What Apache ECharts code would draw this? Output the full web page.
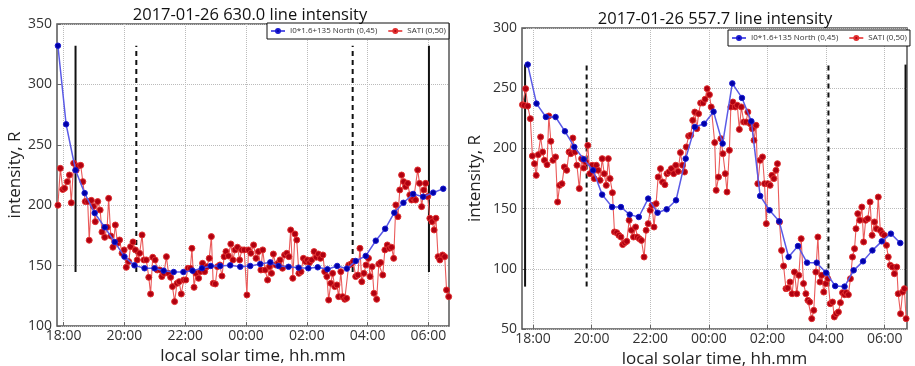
<!DOCTYPE html>
<html>
<head>
<meta charset="utf-8">
<script src="https://cdn.jsdelivr.net/npm/echarts@6/dist/echarts.min.js"></script>
<style>
  html, body { margin: 0; padding: 0; background: #fff; }
  #chart { width: 915px; height: 366px; }
</style>
</head>
<body>
<div id="chart"></div>
<script>
// time is local solar hours, continued past midnight (25 = 01:00)
const titles = ['2017-01-26 630.0 line intensity', '2017-01-26 557.7 line intensity'];
const nameNorth = 'I0*1.6+135 North (0,45)';
const nameSati = 'SATI (0,50)';
const hourTicks = [18, 20, 22, 24, 26, 28, 30];

// 630.0 panel
const north630 = [[17.81,332],[18.08,267],[18.39,229],[18.69,210],[19.02,193.5],[19.35,181.7],[19.68,169.5],[20.0,157.4],
  [20.33,150.2],[20.66,147.8],[20.99,147.8],[21.29,145.8],[21.62,144.7],[21.94,144.7],[22.24,145.8],[22.55,147.8],
  [22.84,149.7],[23.15,149.7],[23.48,150.2],[23.81,149],[24.14,149.7],[24.47,151.3],[24.8,152.7],[25.07,149.7],
  [25.4,149],[25.73,148.3],[26.05,147.8],[26.36,148.6],[26.68,147],[27.0,149.7],[27.32,147.5],[27.61,153.8],
  [27.94,158],[28.27,170.6],[28.58,180.5],[28.88,193.8],[29.18,202],[29.5,209.3],[29.83,207],[30.16,210.4],[30.49,213.6]];
const sati630 = [[17.81,200],[17.89,230.5],[17.97,213],[18.03,214],[18.12,219.5],[18.19,225],[18.25,202],[18.33,234.7],
  [18.41,229],[18.47,232.5],[18.56,233],[18.63,219.5],[18.71,203],[18.79,203],[18.84,171],[18.91,204],[18.98,199],
  [19.04,186.4],[19.12,203],[19.2,196],[19.26,177.8],[19.35,173.4],[19.43,181.7],[19.48,205.7],[19.55,174.5],
  [19.62,165.2],[19.7,183.6],[19.77,168.5],[19.84,171.2],[19.92,160.2],[19.99,163],[20.06,148.6],[20.14,153.3],
  [20.2,165.7],[20.28,169.6],[20.36,163],[20.42,154.7],[20.5,160.2],[20.58,175.4],[20.64,154.7],[20.72,154.7],
  [20.8,140.3],[20.86,126.5],[20.93,156.9],[21.01,154.7],[21.08,146.4],[21.16,146.4],[21.23,140.9],[21.3,143.6],
  [21.38,157.4],[21.45,143.6],[21.52,140.3],[21.58,132.6],[21.65,120.2],[21.73,135.3],[21.8,136.7],[21.87,126.5],
  [21.95,138.1],[22.02,138.1],[22.09,147.8],[22.17,147.8],[22.22,164.3],[22.29,132],[22.35,143.6],[22.44,139.5],
  [22.5,145],[22.57,151.9],[22.64,145],[22.71,149.1],[22.79,156],[22.86,174],[22.92,135.3],[22.99,134.8],
  [23.06,149.1],[23.14,150.5],[23.21,141.4],[23.28,157.4],[23.34,161.6],[23.42,158],[23.5,167.9],[23.57,154.7],
  [23.64,163],[23.72,165.2],[23.79,154.7],[23.86,163],[23.94,163],[24.03,125.7],[24.08,163],[24.16,160.2],
  [24.25,167.1],[24.33,156],[24.41,161.6],[24.49,146.4],[24.55,163],[24.63,146.4],[24.71,138.1],[24.77,149.1],
  [24.84,143.6],[24.9,159.6],[24.98,150.5],[25.06,151.9],[25.12,154.7],[25.2,147.8],[25.27,158.8],[25.34,160.2],
  [25.41,157.4],[25.47,179.5],[25.54,139.5],[25.61,176.2],[25.67,171.2],[25.74,143.6],[25.81,145],[25.89,156],
  [25.96,153.3],[26.02,154.7],[26.09,152.5],[26.16,154.7],[26.24,161.6],[26.31,156.9],[26.38,159.6],[26.45,156],
  [26.53,158.8],[26.59,145],[26.66,140.9],[26.72,121.5],[26.79,135.3],[26.85,143.6],[26.92,132.6],[26.99,134],
  [27.05,124.3],[27.12,145],[27.18,124.3],[27.25,122.1],[27.31,122.9],[27.38,150.5],[27.46,151.3],[27.53,153.3],
  [27.61,140.9],[27.68,142.2],[27.75,164.3],[27.81,136.7],[27.88,143.6],[27.95,150.5],[28.03,156],[28.08,140.9],
  [28.15,149.1],[28.21,127.1],[28.3,122.1],[28.37,151.3],[28.43,152.5],[28.5,142.2],[28.57,163],[28.65,167.1],
  [28.72,164.3],[28.79,165.2],[28.86,156],[28.93,200.2],[29.0,190.5],[29.06,212.6],[29.12,225],[29.19,219.5],
  [29.25,215.4],[29.32,218.1],[29.39,208.5],[29.45,204.3],[29.52,205.7],[29.58,204.3],[29.65,229.2],[29.71,218.1],
  [29.78,198.8],[29.85,212.6],[29.91,218.1],[29.98,207.1],[30.05,189.2],[30.12,186.4],[30.19,179.5],[30.25,189.2],
  [30.32,157.4],[30.38,154.7],[30.47,158.8],[30.54,157.4],[30.6,129.8],[30.67,124.3]];
const solid630 = [18.39, 30.02];
const dashed630 = [20.39, 27.51];

// 557.7 panel
const north557 = [[17.82,269.6],[18.12,237.2],[18.44,226.1],[18.77,226.1],[19.09,214.2],[19.41,201.2],[19.73,191],
  [20.05,181.8],[20.36,161.6],[20.7,151.3],[21.0,151.3],[21.3,145],[21.61,143],[21.93,158.3],[22.25,146.6],
  [22.56,149.4],[22.88,156.9],[23.21,191.5],[23.52,217.8],[23.84,220.5],[24.16,230.5],[24.47,204],[24.8,254],
  [25.13,241.9],[25.45,222.5],[25.75,160.5],[26.07,148.6],[26.4,139.4],[26.72,109.8],[27.04,118.9],[27.35,105.1],
  [27.68,105.1],[28.0,96.8],[28.31,85.7],[28.63,85.2],[28.94,98.7],[29.26,106.2],[29.58,115.3],[29.9,122.8],
  [30.21,129.2],[30.53,121.4]];
const sati557 = [[17.64,236.3],[17.7,235.8],[17.75,249.6],[17.82,235.2],[17.91,224.7],[17.98,193.7],[18.05,187.3],
  [18.11,177.6],[18.18,194.8],[18.26,209.5],[18.33,197],[18.39,190.1],[18.48,186.5],[18.54,226.9],[18.61,205.9],
  [18.68,190.1],[18.77,192.9],[18.84,155.5],[18.91,169.3],[18.99,170.7],[19.07,184.6],[19.15,181.8],[19.23,197],
  [19.29,195.6],[19.36,208.6],[19.43,197],[19.5,186],[19.58,166.6],[19.66,191.5],[19.73,183.7],[19.8,188.7],
  [19.87,202.5],[19.94,179],[20.02,186],[20.09,174.9],[20.16,186],[20.22,181.8],[20.29,173.5],[20.36,191.5],
  [20.43,179],[20.5,169.3],[20.57,191.5],[20.63,174.9],[20.71,163.2],[20.78,130.6],[20.86,130],[20.93,127.8],
  [21.0,126.4],[21.06,120.1],[21.13,121.7],[21.2,122.8],[21.28,140.3],[21.36,132],[21.43,126.4],[21.5,134.7],
  [21.56,126.4],[21.63,125],[21.7,123.6],[21.79,109.8],[21.86,132],[21.93,137.5],[22.0,148.6],[22.06,152.7],
  [22.13,134.7],[22.2,154.1],[22.27,176.2],[22.35,183.2],[22.42,172.1],[22.5,169.9],[22.57,179],[22.64,180.4],
  [22.72,183.2],[22.8,179],[22.87,186],[22.95,180.9],[23.03,196.5],[23.1,186],[23.17,180.4],[23.23,201.2],
  [23.31,210.3],[23.38,210.9],[23.45,223.3],[23.52,230.2],[23.59,216.4],[23.65,228.8],[23.72,237.7],[23.8,237.7],
  [23.87,240.8],[23.94,249.6],[24.02,244.6],[24.08,234.4],[24.2,204.8],[24.25,165.2],[24.33,176.2],[24.41,208.1],
  [24.48,195.6],[24.56,179],[24.62,163.8],[24.7,198.4],[24.75,234.4],[24.82,238.5],[24.9,234.4],[24.97,235.8],
  [25.04,215.8],[25.11,234.4],[25.19,221.9],[25.27,221.9],[25.33,230.2],[25.41,220.5],[25.48,216.4],[25.54,206.7],
  [25.61,219.2],[25.67,170.7],[25.75,190.1],[25.83,192.9],[25.9,170.7],[25.96,137.5],[26.01,170.7],[26.09,169.3],
  [26.15,177.6],[26.22,174.9],[26.29,181.8],[26.34,187.3],[26.41,138.9],[26.48,115.3],[26.55,102.3],[26.63,83.5],
  [26.69,84],[26.77,89],[26.84,79.3],[26.92,97.3],[27.0,79.3],[27.07,94.6],[27.15,125],[27.23,87.7],[27.31,79.3],
  [27.38,73.8],[27.44,72.4],[27.51,58.6],[27.58,65.5],[27.65,97.3],[27.72,126.4],[27.79,89],[27.85,94.6],
  [27.92,80.7],[27.99,87.7],[28.06,91.8],[28.14,71],[28.22,72.4],[28.28,60],[28.35,62.7],[28.42,64.1],[28.49,71.9],
  [28.56,80.2],[28.63,78.5],[28.69,80.2],[28.76,78.5],[28.83,91.8],[28.9,109.8],[28.97,116.7],[29.02,133.3],
  [29.08,145.8],[29.15,140.3],[29.22,151.3],[29.28,122.3],[29.35,140.3],[29.42,141.6],[29.5,155.5],[29.57,127.8],
  [29.65,138.9],[29.72,133.3],[29.78,159.6],[29.85,131.9],[29.92,129.2],[29.99,127.8],[30.06,119.5],[30.12,109.8],
  [30.19,102.9],[30.26,101.5],[30.33,95.9],[30.41,101.5],[30.46,79.3],[30.54,62.7],[30.61,80.7],[30.67,83.5],[30.73,58.6]];
const solid557 = [17.73, 30.71];
const dashed557 = [19.83, 28.08];

const panels = [
  { north: north630, sati: sati630, solid: solid630, dashed: dashed630, xMin: 17.78, xMax: 30.68, yMin: 100, yMax: 350,
    grid: { left: 57, top: 24, width: 392, height: 302 }, legend: { left: 267, top: 23 }, titleX: 245, titleY: 2, yGap: 33 },
  { north: north557, sati: sati557, solid: solid557, dashed: dashed557, xMin: 17.625, xMax: 30.76, yMin: 50, yMax: 300,
    grid: { left: 522, top: 28, width: 385, height: 301 }, legend: { left: 728, top: 30 }, titleX: 710, titleY: 6, yGap: 38 }
];

const font = '"Open Sans", "DejaVu Sans", sans-serif';
const hhmm = v => String(v % 24).padStart(2, '0') + ':00';

const option = { animation: false, title: [], grid: [], xAxis: [], yAxis: [], legend: [], series: [] };

panels.forEach((p, i) => {
  option.title.push({
    text: titles[i], left: p.titleX, top: p.titleY, textAlign: 'center',
    textStyle: { fontFamily: font, fontSize: 16.5, fontWeight: 'normal', color: '#111' }
  });
  option.grid.push(Object.assign({
    show: true, borderColor: '#555', borderWidth: 1.5, backgroundColor: '#fff',
    containLabel: false, outerBoundsMode: 'none'
  }, p.grid));
  option.xAxis.push({
    type: 'value', gridIndex: i, min: p.xMin, max: p.xMax,
    name: 'local solar time, hh.mm', nameLocation: 'middle', nameGap: 18,
    nameTextStyle: { fontFamily: font, fontSize: 17, color: '#222' },
    axisLine: { show: false },
    axisTick: { inside: true, length: 4, customValues: hourTicks, lineStyle: { color: '#666' } },
    axisLabel: { customValues: hourTicks, formatter: hhmm, fontFamily: font, fontSize: 14, color: '#333', margin: 3 },
    splitLine: { show: true, lineStyle: { type: 'dotted', color: '#bbb' } }
  });
  option.yAxis.push({
    type: 'value', gridIndex: i, min: p.yMin, max: p.yMax, interval: 50,
    name: 'intensity, R', nameLocation: 'middle', nameGap: p.yGap,
    nameTextStyle: { fontFamily: font, fontSize: 17, color: '#222' },
    axisLine: { show: false },
    axisTick: { inside: true, length: 4, lineStyle: { color: '#666' } },
    axisLabel: { fontFamily: font, fontSize: 14, color: '#333', margin: 5 },
    splitLine: { show: true, lineStyle: { type: 'dotted', color: '#bbb' } }
  });
  option.legend.push({
    left: p.legend.left, top: p.legend.top, orient: 'horizontal',
    data: [nameNorth, nameSati], itemGap: 10, itemWidth: 14, itemHeight: 5,
    padding: [4, 3], borderColor: '#111', borderWidth: 1, backgroundColor: '#fff',
    textStyle: { fontFamily: font, fontSize: 8, color: '#333' }
  });

  const vals = p.north.map(d => d[1]);
  const lo = Math.min(...vals), hi = Math.max(...vals);
  p.solid.concat(p.dashed).forEach((x, k) => {
    option.series.push({
      type: 'line', xAxisIndex: i, yAxisIndex: i, data: [[x, lo], [x, hi]],
      symbol: 'none', silent: true, z: 1,
      lineStyle: { color: '#111', width: 2, type: k < p.solid.length ? 'solid' : [5, 4] }
    });
  });

  option.series.push({
    name: nameSati, type: 'line', xAxisIndex: i, yAxisIndex: i, data: p.sati, z: 3,
    symbol: 'circle', symbolSize: 6, showAllSymbol: true,
    lineStyle: { color: '#ea5a5a', width: 1.1 },
    itemStyle: { color: '#b00010', borderColor: '#e03030', borderWidth: 1 }
  });
  option.series.push({
    name: nameNorth, type: 'line', xAxisIndex: i, yAxisIndex: i, data: p.north, z: 4,
    symbol: 'circle', symbolSize: 5.5, showAllSymbol: true,
    lineStyle: { color: '#5a5ae6', width: 1.5 },
    itemStyle: { color: '#0000a8', borderColor: '#1a1ad0', borderWidth: 1 }
  });
});

const chart = echarts.init(document.getElementById('chart'), null, { renderer: 'canvas' });
chart.setOption(option);
</script>
</body>
</html>
